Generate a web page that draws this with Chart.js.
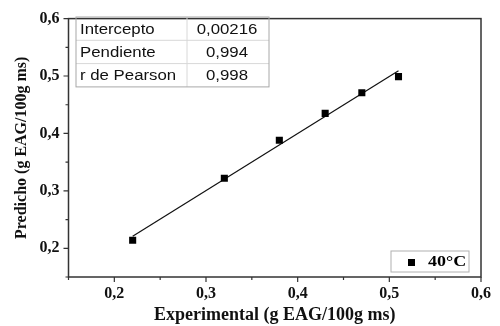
<!DOCTYPE html>
<html>
<head>
<meta charset="utf-8">
<script src="https://cdn.jsdelivr.net/npm/chart.js@4.4.1/dist/chart.umd.min.js"></script>
<style>
  html, body { margin: 0; padding: 0; background: #fff; }
</style>
</head>
<body>
<canvas id="myChart" width="500" height="326"></canvas>
<script>
// measured points (experimental vs predicted)
const expX = [0.22, 0.32, 0.38, 0.43, 0.47, 0.51];
const predY = [0.214, 0.322, 0.388, 0.435, 0.471, 0.499];
const seriesLabel = '40°C';

// regression table
const statNames = ['Intercepto', 'Pendiente', 'r de Pearson'];
const statValues = ['0,00216', '0,994', '0,998'];
const intercept = 0.00216;
const slope = 0.994;

// axis ticks
const majorTicks = [0.2, 0.3, 0.4, 0.5, 0.6];
const axisMin = 0.15, axisMax = 0.6;

const fitX = [expX[0], expX[expX.length - 1]];
const fitLine = fitX.map(x => ({x: x, y: intercept + slope * x}));
const points = expX.map((x, i) => ({x: x, y: predY[i]}));

const fmt = v => v.toFixed(1).replace('.', ',');
const isMajor = v => majorTicks.some(m => Math.abs(m - v) < 1e-6);

// text a bit wider than tall, like the source image
function wideText(c, txt, x, y, align, sx) {
  c.save();
  c.translate(x, y);
  c.scale(sx, 1);
  c.textAlign = align;
  c.fillText(txt, 0, 0);
  c.restore();
}

// frame, outward ticks, table and legend
const decorations = {
  id: 'decorations',
  afterDraw(chart) {
    const c = chart.ctx, a = chart.chartArea;
    const xs = chart.scales.x, ys = chart.scales.y;
    c.save();
    c.strokeStyle = '#333';
    c.lineWidth = 1.5;
    c.strokeRect(a.left, a.top, a.right - a.left, a.bottom - a.top);
    c.lineWidth = 1.2;
    for (let v = 0.15; v <= 0.6001; v += 0.05) {
      const len = isMajor(v) ? 5 : 3;
      const px = xs.getPixelForValue(v);
      const py = ys.getPixelForValue(v);
      c.beginPath();
      c.moveTo(px, a.bottom); c.lineTo(px, a.bottom + len);
      c.moveTo(a.left, py); c.lineTo(a.left - len, py);
      c.stroke();
    }

    // table
    const tx = 76, ty = 17, tw = 193, rh = 23.3, col = 111;
    c.lineWidth = 1;
    c.beginPath();
    c.moveTo(tx + col, ty); c.lineTo(tx + col, ty + rh * 3);
    for (let i = 1; i < 3; i++) {
      c.moveTo(tx, ty + rh * i); c.lineTo(tx + tw, ty + rh * i);
    }
    c.strokeStyle = '#d8d8d8';
    c.stroke();
    c.strokeStyle = '#a8a8a8';
    c.strokeRect(tx, ty, tw, rh * 3);
    c.fillStyle = '#111';
    c.font = '14px "Liberation Sans", Arial, sans-serif';
    c.textBaseline = 'middle';
    statNames.forEach((n, i) => {
      const cy = ty + rh * i + rh / 2 + 1;
      wideText(c, n, tx + 4, cy, 'left', 1.2);
      wideText(c, statValues[i], tx + col + (tw - col) / 2 - 1, cy, 'center', 1.2);
    });

    // legend
    const lx = 391, ly = 251, lw = 78, lh = 21;
    c.strokeStyle = '#b0b0b0';
    c.strokeRect(lx, ly, lw, lh);
    c.fillStyle = '#000';
    c.fillRect(lx + 17, ly + 8, 7, 7);
    c.font = 'bold 15px "Liberation Serif", "Times New Roman", serif';
    wideText(c, seriesLabel, lx + 37, ly + lh / 2 + 1, 'left', 1.2);
    c.restore();
  }
};

const serifBold = {family: '"Liberation Serif", "Times New Roman", serif', weight: 'bold'};

new Chart(document.getElementById('myChart'), {
  type: 'scatter',
  data: {
    datasets: [{
      label: seriesLabel,
      data: points,
      pointStyle: 'rect',
      pointRadius: 5,
      pointHoverRadius: 5,
      backgroundColor: '#000',
      borderColor: '#000',
      borderWidth: 0,
      order: 0
    }, {
      label: 'ajuste',
      data: fitLine,
      showLine: true,
      pointRadius: 0,
      borderColor: '#111',
      borderWidth: 1.2,
      order: 1
    }]
  },
  options: {
    responsive: false,
    animation: false,
    devicePixelRatio: 1,
    layout: {padding: {top: 13, right: 19, left: 0, bottom: 0}},
    plugins: {legend: {display: false}, tooltip: {enabled: false}},
    scales: {
      x: {
        type: 'linear',
        min: axisMin, max: axisMax,
        grid: {display: false, drawTicks: false},
        border: {display: false},
        ticks: {
          stepSize: 0.05,
          padding: 7,
          color: '#111',
          autoSkip: false,
          maxRotation: 0,
          font: Object.assign({size: 16}, serifBold),
          callback: v => isMajor(v) ? fmt(v) : ''
        },
        title: {
          display: true,
          text: 'Experimental (g EAG/100g ms)',
          color: '#111',
          font: Object.assign({size: 18}, serifBold),
          padding: {top: 0, bottom: 0}
        },
        afterFit: s => { s.height = 49; }
      },
      y: {
        type: 'linear',
        min: axisMin, max: axisMax,
        grid: {display: false, drawTicks: false},
        border: {display: false},
        ticks: {
          stepSize: 0.05,
          padding: 9,
          color: '#111',
          autoSkip: false,
          font: Object.assign({size: 16}, serifBold),
          callback: v => isMajor(v) ? fmt(v) : ''
        },
        title: {
          display: true,
          text: 'Predicho (g EAG/100g ms)',
          color: '#111',
          font: Object.assign({size: 16}, serifBold),
          padding: {top: 12, bottom: 0}
        },
        afterFit: s => { s.width = 68.5; }
      }
    }
  },
  plugins: [decorations]
});
</script>
</body>
</html>
